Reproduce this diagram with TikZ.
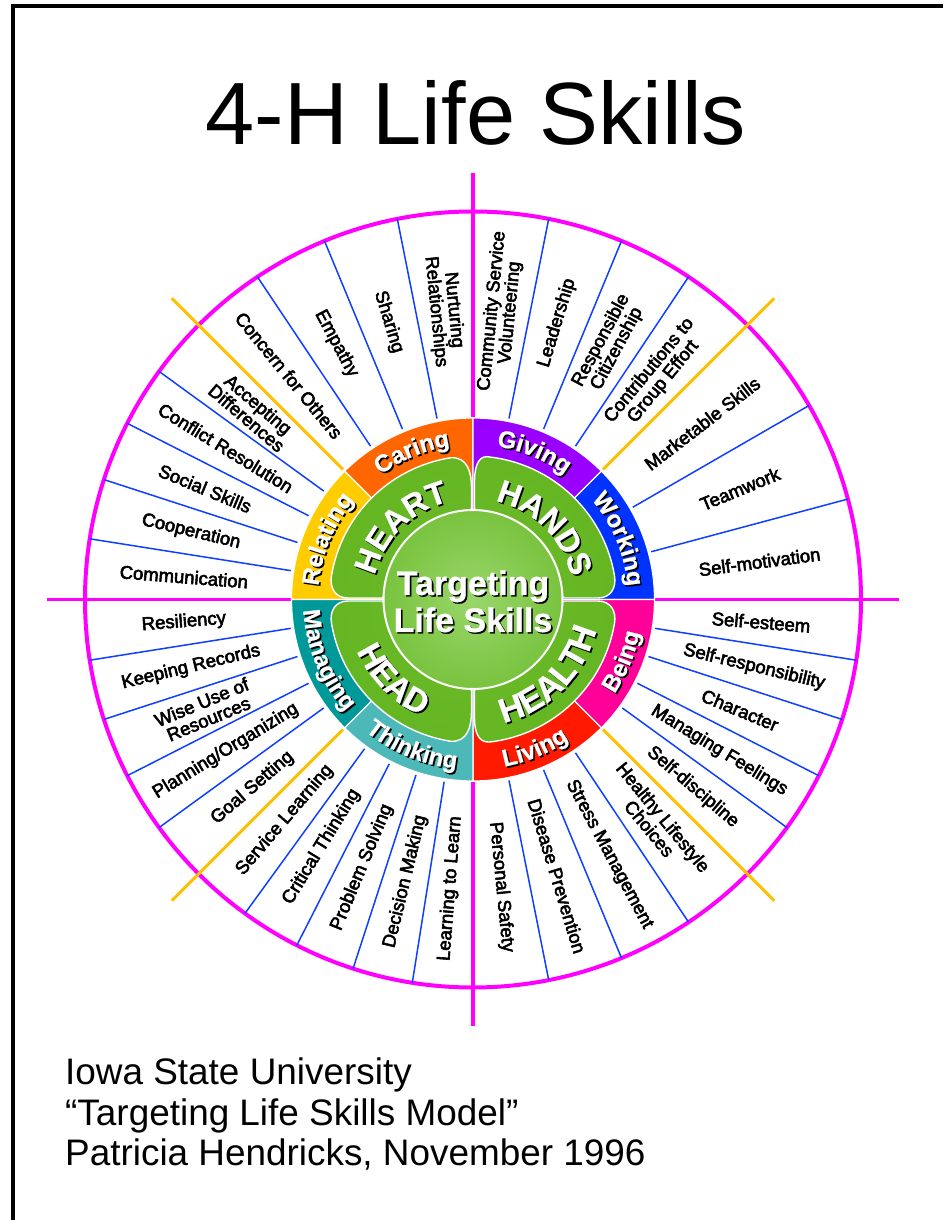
\documentclass[tikz,border=0pt]{standalone}
\usepackage{fontspec}
\setmainfont{Liberation Sans}
\newfontfamily\labfont[FakeBold=3]{Liberation Sans}
\newfontfamily\wordfont[BoldFont={Liberation Sans Bold},BoldFeatures={FakeBold=0.8}]{Liberation Sans}
\usetikzlibrary{decorations.text}
\definecolor{pinkline}{HTML}{FF00FF}
\definecolor{goldline}{HTML}{FFC000}
\definecolor{blueline}{HTML}{0F3FFF}
\definecolor{cCaring}{HTML}{FF6600}
\definecolor{cRelating}{HTML}{FFCC00}
\definecolor{cGiving}{HTML}{9900FF}
\definecolor{cWorking}{HTML}{0033FF}
\definecolor{cBeing}{HTML}{FF0099}
\definecolor{cLiving}{HTML}{FF1A00}
\definecolor{cThinking}{HTML}{4DB8B8}
\definecolor{cManaging}{HTML}{009999}
\pgfdeclareradialshading{coreglow}{\pgfpointorigin}{rgb(0bp)=(0.60,0.84,0.42);rgb(20bp)=(0.50,0.78,0.28);rgb(50bp)=(0.33,0.69,0.07);rgb(100bp)=(0.33,0.69,0.07)}
\pgfdeclareradialshading{petalglow}{\pgfpointorigin}{rgb(0bp)=(0.44,0.73,0.18);rgb(31bp)=(0.38,0.71,0.12);rgb(50bp)=(0.31,0.69,0.05);rgb(100bp)=(0.31,0.69,0.05)}
\tikzset{
  radlab/.style={font=\labfont\fontsize{18.5}{18}\selectfont,align=center,inner sep=0pt,text=black},
  bluespoke/.style={draw=blueline,line width=1.5pt},
  goldspoke/.style={draw=goldline,line width=3pt},
  pinkspoke/.style={draw=pinkline,line width=3.5pt},
  sectorfill/.style={draw=white,line width=1.2pt}
}
\newcommand{\ringsector}[3]{\fill[#3,sectorfill] (0,0) -- (#1:181.5pt) arc[start angle=#1,end angle=#2,radius=181.5pt] -- cycle;}
\newcommand{\arclabel}[5]{%
  \path[shift={(1.6,-1.6)},decorate,decoration={text along path,text align=center,text={|\wordfont\bfseries\fontsize{#5}{#5}\selectfont\color{black}|#1}}] (#3:#2pt) arc[start angle=#3,end angle=#4,radius=#2pt];
  \path[decorate,decoration={text along path,text align=center,text={|\wordfont\bfseries\fontsize{#5}{#5}\selectfont\color{white}|#1}}] (#3:#2pt) arc[start angle=#3,end angle=#4,radius=#2pt];
}
\newcommand{\petalpath}[2]{(1.5,91) -- (1.5,#1) .. controls (1.5,#1+14) and (5,143) .. (#2:143.5pt) arc[start angle=#2,end angle=9.5,radius=143.5pt] .. controls (143.5,12) and (138,1.5) .. (125,1.5) -- (91,1.5) -- cycle}
\newcommand{\petal}[4]{%
  \begin{scope}[xscale=#1,yscale=#2]
    \begin{scope}\clip \petalpath{#3}{#4};
      \shade[shading=petalglow] (0,0) circle (146pt);
    \end{scope}
    \draw[white,line width=1.4pt] \petalpath{#3}{#4};
  \end{scope}
}
\begin{document}
\begin{tikzpicture}[x=1pt,y=1pt]
\useasboundingbox (-473,-620.5) rectangle (470,599.5);
\fill[white] (-473,-620.5) rectangle (470,599.5);
\draw[black,line width=4pt] (-460,-620.5) -- (-460,593.5) -- (470,593.5);
\node[anchor=base,inner sep=0pt,font=\fontsize{88.4}{88.4}\selectfont] (title) at (3,455) {4-H Life Skills};
\node[anchor=base west,inner sep=0pt,font=\fontsize{36.9}{36.9}\selectfont] (credit1) at (-408,-485) {Iowa State University};
\node[anchor=base west,inner sep=0pt,font=\fontsize{36.9}{36.9}\selectfont] (credit2) at (-408,-525.5) {“Targeting Life Skills Model”};
\node[anchor=base west,inner sep=0pt,font=\fontsize{36.9}{36.9}\selectfont] (credit3) at (-408,-566) {Patricia Hendricks, November 1996};
\draw[pinkline,line width=4pt] (0,0) circle (388pt);
\foreach \a in {0,90,180,270} \draw[pinkspoke] (\a:182pt) -- (\a:426pt);
\foreach \a in {78.75,67.5,56.25,30,15,-9,-18,-27,-36,-56.25,-67.5,-78.75,-99,-108,-117,-126,-144,-153,-162,-171,171,162,153,144,123.75,112.5,101.25}
  \draw[bluespoke] (\a:184.5pt) -- (\a:388pt);
\foreach \a in {45,135,225,315} \draw[goldspoke] (\a:184pt) -- (\a:426pt);
\ringsector{90}{135}{cCaring}
\ringsector{135}{180}{cRelating}
\ringsector{45}{90}{cGiving}
\ringsector{0}{45}{cWorking}
\ringsector{-45}{0}{cBeing}
\ringsector{-90}{-45}{cLiving}
\ringsector{-135}{-90}{cThinking}
\ringsector{180}{225}{cManaging}
\petal{1}{1}{118}{84.5}
\petal{-1}{1}{112}{81}
\petal{1}{-1}{118}{83.5}
\petal{-1}{-1}{112}{81}
\shade[shading=coreglow] (0,0) circle (90pt);
\draw[white,line width=2pt] (0,0) circle (89.5pt);
\arclabel{Caring}{155}{150}{75}{24}
\arclabel{Relating}{155}{195}{120}{24}
\arclabel{Giving}{155}{105}{30}{24}
\arclabel{Working}{155}{60}{-15}{24}
\arclabel{Being}{170}{-60}{15}{24}
\arclabel{Living}{170}{-105}{-30}{24}
\arclabel{Thinking}{170}{-150}{-75}{24}
\arclabel{Managing}{170}{165}{240}{24}
\arclabel{HEART}{101}{202.5}{67.5}{32}
\arclabel{HANDS}{101}{112.5}{-22.5}{32}
\arclabel{HEAD}{127}{157.5}{292.5}{33}
\arclabel{HEALTH}{127}{-112.5}{22.5}{34}
\node[anchor=base,inner sep=0pt,font=\wordfont\bfseries\fontsize{34}{34}\selectfont,text=black] (coreA) at (1.6,3) {Targeting};
\node[anchor=base,inner sep=0pt,font=\wordfont\bfseries\fontsize{34}{34}\selectfont,text=black] (coreB) at (1.6,-34) {Life Skills};
\node[anchor=base,inner sep=0pt,font=\wordfont\bfseries\fontsize{34}{34}\selectfont,text=white] (coreC) at (0,4.5) {Targeting};
\node[anchor=base,inner sep=0pt,font=\wordfont\bfseries\fontsize{34}{34}\selectfont,text=white] (coreD) at (0,-32.5) {Life Skills};
\foreach \a/\t [count=\i] in {
 84.4/{Community Service\\Volunteering},73.1/{Leadership},61.9/{Responsible\\Citizenship},50.6/{Contributions to\\Group Effort},
 37.5/{Marketable Skills},22.5/{Teamwork},7.5/{Self-motivation},
 -4.5/{Self-esteem},-13.5/{Self-responsibility},-22.5/{Character},-31.5/{Managing Feelings},-40.5/{Self-discipline},
 -50.6/{Healthy Lifestyle\\Choices},-61.9/{Stress Management},-73.1/{Disease Prevention},-84.4/{Personal Safety}}
  \node[radlab,rotate=\a] (right\i) at (\a:289pt) {\t};
\foreach \a/\t [count=\i] in {
 95.6/{Nurturing\\Relationships},106.9/{Sharing},118.1/{Empathy},129.4/{Concern for Others},
 139.5/{Accepting\\Differences},148.5/{Conflict Resolution},157.5/{Social Skills},166.5/{Cooperation},175.5/{Communication},
 184.5/{Resiliency},193.5/{Keeping Records},202.5/{Wise Use of\\Resources},211.5/{Planning/Organizing},220.5/{Goal Setting},
 229.5/{Service Learning},238.5/{Critical Thinking},247.5/{Problem Solving},256.5/{Decision Making},265.5/{Learning to Learn}}
  \node[radlab,rotate=\a+180] (left\i) at (\a:290pt) {\t};
\end{tikzpicture}
\end{document}
